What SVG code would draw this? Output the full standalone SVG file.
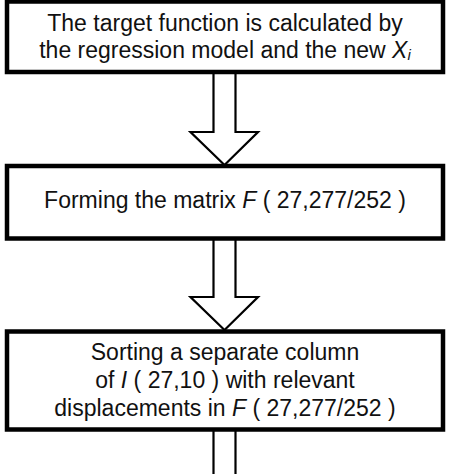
<svg xmlns="http://www.w3.org/2000/svg" width="474" height="474" viewBox="0 0 474 474">
<style>
.box{fill:#fff;stroke:#000;stroke-width:4.5}
.arr{fill:#fff;stroke:#000;stroke-width:2.2;stroke-linejoin:miter}
text{font-family:"Liberation Sans",Arial,sans-serif;font-size:23px;fill:#111;text-anchor:middle}
.it{font-style:italic}
.sub{font-size:15px;font-style:italic}
</style>
<rect width="474" height="474" fill="#fff"/>
<g id="connectors">
<path class="arr" d="M213.5,72 V132 H190.5 L224.5,165 L258,132 H235.5 V72"/>
<path class="arr" d="M213.5,239 V297 H190.5 L224.5,330 L258,297 H235.5 V239"/>
<path class="arr" d="M213.5,430 V480 M235.5,430 V480"/>
</g>
<g id="node1">
<rect class="box" x="7" y="1.5" width="436" height="70.5"/>
<text x="225" y="31">The target function is calculated by</text>
<text x="225" y="58.3">the regression model and the new <tspan class="it">X</tspan><tspan class="sub" dy="2">i</tspan></text>
</g>
<g id="node2">
<rect class="box" x="7" y="166" width="436" height="72.5"/>
<text x="225" y="208">Forming the matrix <tspan class="it">F</tspan> ( 27,277/252 )</text>
</g>
<g id="node3">
<rect class="box" x="7" y="331.5" width="436" height="98"/>
<text x="225" y="359.5">Sorting a separate column</text>
<text x="225" y="388">of <tspan class="it">I</tspan> ( 27,10 ) with relevant</text>
<text x="225" y="416">displacements in <tspan class="it">F</tspan> ( 27,277/252 )</text>
</g>
</svg>
